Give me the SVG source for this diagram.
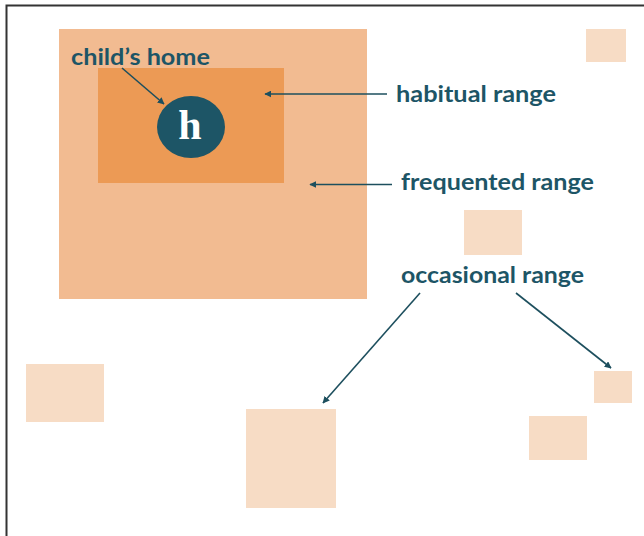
<svg xmlns="http://www.w3.org/2000/svg" width="644" height="536" viewBox="0 0 644 536">
<style>
.lbl{font-family:Lato,"Open Sans","Liberation Sans",sans-serif;font-weight:700;font-size:23px;fill:#1d5566}
.occ{fill:#f7dcc5}
.conn{stroke:#1d4f5e;stroke-width:1.6;fill:none;marker-end:url(#ah)}
</style>
<defs>
<marker id="ah" viewBox="0 0 10 10" refX="9" refY="5" markerWidth="7" markerHeight="7" markerUnits="userSpaceOnUse" orient="auto">
<path d="M0,0 L10,5 L0,10 Z" fill="#1d4f5e"/>
</marker>
</defs>
<rect width="644" height="536" fill="#fff"/>
<path d="M6.5,536 V5.5 H644" stroke="#333" stroke-width="2" fill="none"/>
<g id="frequented">
<rect x="59" y="29" width="308" height="270" fill="#f2bb91"/>
</g>
<g id="habitual">
<rect x="98" y="68" width="186" height="115" fill="#ec9a55"/>
</g>
<g id="home">
<ellipse cx="191" cy="127" rx="34" ry="31" fill="#1d5566"/>
<text x="190" y="139" text-anchor="middle" font-family="'Liberation Serif',serif" font-weight="700" font-size="42" fill="#fff">h</text>
</g>
<g id="occasional">
<rect class="occ" x="586" y="29" width="40" height="33"/>
<rect class="occ" x="464" y="210" width="58" height="45"/>
<rect class="occ" x="26" y="364" width="78" height="58"/>
<rect class="occ" x="246" y="409" width="90" height="99"/>
<rect class="occ" x="594" y="371" width="38" height="32"/>
<rect class="occ" x="529" y="416" width="58" height="44"/>
</g>
<g id="labels">
<text class="lbl" x="71" y="65" textLength="139" lengthAdjust="spacingAndGlyphs">child’s home</text>
<text class="lbl" x="396" y="102" textLength="160" lengthAdjust="spacingAndGlyphs">habitual range</text>
<text class="lbl" x="401" y="190" textLength="193" lengthAdjust="spacingAndGlyphs">frequented range</text>
<text class="lbl" x="401" y="283" textLength="183" lengthAdjust="spacingAndGlyphs">occasional range</text>
</g>
<g id="connectors">
<line class="conn" x1="122" y1="68" x2="164" y2="104"/>
<line class="conn" x1="387" y1="94" x2="265" y2="94"/>
<line class="conn" x1="392" y1="184.5" x2="310" y2="184.5"/>
<line class="conn" x1="420" y1="293" x2="323" y2="403"/>
<line class="conn" x1="516" y1="293" x2="611" y2="368"/>
</g>
</svg>
